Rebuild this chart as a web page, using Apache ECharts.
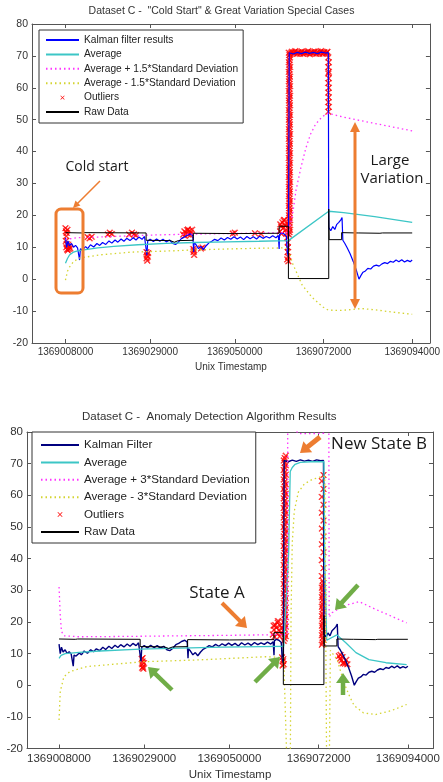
<!DOCTYPE html>
<html>
<head>
<meta charset="utf-8">
<script src="https://cdn.jsdelivr.net/npm/echarts@6/dist/echarts.min.js"></script>
<style>
html, body { margin: 0; padding: 0; background: #fff; }
#main { width: 443px; height: 782px; }
</style>
</head>
<body>
<div id="main"></div>
<script>
// x tick labels (unix timestamps), same for both panels
var xTicks = [1369008000, 1369029000, 1369050000, 1369072000, 1369094000];

// raw data, shared by both panels
var rawData = [
  [1369008000,14.6],[1369012000,14.5],[1369012300,14.0],[1369012600,14.6],[1369028000,14.5],
  [1369028000,12.2],[1369034000,12.1],[1369035000,11.6],[1369036000,12.1],[1369039700,12.2],
  [1369039700,14.4],[1369050000,14.3],[1369061000,14.4],[1369061000,16.6],[1369063300,16.6],
  [1369063300,0.2],[1369073300,0.2],[1369073300,22],[1369073400,12.4],[1369076500,12.4],
  [1369076500,14.6],[1369080000,14.5],[1369080300,15.0],[1369080600,14.5],[1369086000,14.4],
  [1369086300,14.9],[1369086600,14.5],[1369094000,14.5]
];

// kalman filter output (same run in both panels)
var kalmanData = [
  [1369008000,13],[1369008300,10],[1369008600,12],[1369009000,10.5],[1369009500,11.2],
  [1369010000,10],[1369010500,10.6],[1369011000,9.8],[1369011300,10.4],[1369011500,6],
  [1369011700,9.5],[1369012200,9.2],[1369013000,10.2],[1369013500,9.6],[1369014200,10.8],
  [1369015000,10.1],[1369015800,11.2],[1369016500,10.6],[1369017200,11.5],[1369018000,10.9],
  [1369018800,12],[1369019500,11.3],[1369020300,12.3],[1369021000,11.6],[1369021800,12.6],
  [1369022500,11.9],[1369023200,12.8],[1369024000,12.1],[1369024800,13],[1369025500,12.3],
  [1369026200,13.2],[1369027000,12.5],[1369027600,13.4],[1369028000,12.8],[1369028200,7.5],
  [1369028400,12],[1369029000,12.5],[1369029800,11.8],[1369030600,12.6],[1369031400,11.9],
  [1369032200,12.5],[1369033000,11.7],[1369033800,12.3],[1369034600,11.2],[1369035300,10.9],
  [1369036000,11.6],[1369036800,12.8],[1369037500,13.2],[1369038200,13.8],[1369039000,14.2],
  [1369039600,13.6],[1369039800,8.5],[1369039900,11.5],[1369040400,10.8],[1369041000,9.6],
  [1369041600,10.3],[1369042200,9.3],[1369042900,10.5],[1369043600,11.4],[1369044300,11.9],
  [1369045000,12.5],[1369045800,12.1],[1369046600,12.9],[1369047400,12.3],[1369048200,13.1],
  [1369049000,12.5],[1369049800,13.3],[1369050600,12.6],[1369051400,13.2],[1369052200,12.4],
  [1369053000,13.4],[1369053800,12.7],[1369054600,13.3],[1369055400,12.6],[1369056200,13.5],
  [1369057000,12.8],[1369057800,13.4],[1369058600,12.9],[1369059400,13.6],[1369060200,13],
  [1369060800,13.7],[1369061000,9.5],[1369061100,14],[1369061600,14.5],[1369062200,14.2],
  [1369062800,13.5],[1369063000,8.5],[1369063300,7],[1369063500,71],[1369064500,70.6],
  [1369065500,71.1],[1369066500,70.7],[1369067500,71.2],[1369068500,70.8],[1369069500,71.1],
  [1369070500,70.7],[1369071500,71.2],[1369072500,70.9],[1369073200,71],[1369073300,16.2],
  [1369073800,15.2],[1369074300,16.5],[1369074800,15.6],[1369075300,17.2],[1369075800,17.8],
  [1369076300,18.6],[1369076600,19.3],[1369076800,12.2],[1369077300,11.2],[1369077900,9.8],
  [1369078600,8],[1369079400,5.5],[1369080100,3],[1369080800,0],[1369081300,1.2],
  [1369081800,2.2],[1369082400,2.6],[1369083000,3.4],[1369083700,3.2],[1369084400,4.1],
  [1369085100,4.4],[1369085800,4.1],[1369086500,4.8],[1369087200,5.2],[1369087900,4.9],
  [1369088600,5.6],[1369089300,5.3],[1369090000,6],[1369090700,5.5],[1369091400,6.1],
  [1369092100,5.4],[1369092800,5.9],[1369093500,5.5],[1369094000,6]
];

// top panel: 1.5 sigma
var topAvg = [
  [1369008000,5],[1369008500,6.5],[1369009000,7.6],[1369010000,8.5],[1369011000,8.9],
  [1369013000,9.3],[1369016000,9.8],[1369020000,10.3],[1369026000,10.8],[1369033000,11.2],
  [1369040000,11.5],[1369048000,11.7],[1369056000,11.9],[1369063300,12.1],[1369073300,21.3],
  [1369077000,20.9],[1369084700,19.6],[1369094000,17.8]
];
var topUpper = [
  [1369008000,12.5],[1369011000,13],[1369018000,13.3],[1369028000,13.8],[1369038000,14.1],
  [1369048000,14.3],[1369058000,14.5],[1369063300,14.6],[1369064300,20],[1369065200,28],
  [1369066400,35],[1369067600,41],[1369068800,45.5],[1369070000,48.5],[1369071700,51],
  [1369073200,52],[1369077000,50.8],[1369084000,49],[1369094000,46.5]
];
var topLower = [
  [1369008000,-0.3],[1369008500,2.5],[1369009000,3.8],[1369010000,5.5],[1369011400,6.6],
  [1369016300,7.6],[1369024400,8.5],[1369032600,8.8],[1369040700,9.2],[1369048800,9.5],
  [1369056000,9.7],[1369062000,9.8],[1369063300,9.5],[1369064300,5],[1369066700,-1.8],
  [1369069100,-5.6],[1369071800,-8.7],[1369073200,-9.7],[1369076000,-9.8],[1369078100,-9.6],
  [1369081500,-9.2],[1369085400,-9.7],[1369089000,-10.3],[1369094000,-11]
];
var topOutliers = [
  [1369008000,16],[1369008100,15],[1369008200,13.5],[1369008100,12],[1369008300,11],
  [1369008200,10],[1369008400,9.3],[1369008600,9],[1369008800,9.5],[1369009000,10.2],
  [1369008500,15.5],[1369008300,14.5],[1369009200,9.6],[1369008700,10.8],
  [1369013500,13.2],[1369014000,12.8],[1369014500,13.3],[1369018500,14],[1369019000,14.6],
  [1369019500,14.2],[1369023800,14],[1369024500,14.6],[1369025000,14.1],[1369025500,13.8],
  [1369028100,8.5],[1369028200,7.5],[1369028100,6.5],[1369028300,5.8],[1369028400,7],[1369028500,8.2],
  [1369037200,14],[1369037500,15],[1369037900,14.5],[1369038200,15.4],[1369038500,14],
  [1369038800,15.2],[1369039100,14.6],[1369039400,15.5],[1369037600,13.6],[1369039000,13.8],[1369038400,15.6],
  [1369039700,9.5],[1369039800,8.5],[1369039900,7.6],[1369039800,9],
  [1369041600,9.6],[1369042000,9.9],
  [1369049500,14.3],[1369050000,14.6],[1369055000,14.4],[1369056500,14.2],
  [1369061200,15],[1369061500,16.5],[1369061800,17.8],[1369062100,18.4],[1369062400,17],
  [1369062700,15.5],[1369061600,14.2],[1369062000,16],[1369062300,18.6],[1369062600,16.8],
  [1369062900,14.5],[1369061300,17.2],
  [1369063000,13],[1369063100,11.5],[1369063200,10],[1369063100,8.5],[1369063200,7],
  [1369063300,5.6],[1369063000,6.2],
  [1369063400,14],[1369063700,15.5],[1369063400,17],[1369063700,18.5],[1369063400,20],
  [1369063700,21.5],[1369063400,23],[1369063700,24.5],[1369063400,26],[1369063700,27.5],
  [1369063400,29],[1369063700,30.5],[1369063400,32],[1369063700,33.5],[1369063400,35],
  [1369063700,36.5],[1369063400,38],[1369063700,39.5],[1369063400,41],[1369063700,42.5],
  [1369063400,44],[1369063700,45.5],[1369063400,47],[1369063700,48.5],[1369063400,50],
  [1369063700,51.5],[1369063400,53],[1369063700,54.5],[1369063400,56],[1369063700,57.5],
  [1369063400,59],[1369063700,60.5],[1369063400,62],[1369063700,63.5],[1369063400,65],
  [1369063700,66.5],[1369063400,68],[1369063700,69.5],[1369063400,71],
  [1369063550,14.75],[1369063550,16.25],[1369063550,17.75],[1369063550,19.25],[1369063550,20.75],
  [1369063550,22.25],[1369063550,23.75],[1369063550,25.25],[1369063550,26.75],[1369063550,28.25],
  [1369063550,29.75],[1369063550,31.25],[1369063550,32.75],[1369063550,34.25],[1369063550,35.75],
  [1369063550,37.25],[1369063550,38.75],[1369063550,40.25],[1369063550,41.75],[1369063550,43.25],
  [1369063550,44.75],[1369063550,46.25],[1369063550,47.75],[1369063550,49.25],[1369063550,50.75],
  [1369063550,52.25],[1369063550,53.75],[1369063550,55.25],[1369063550,56.75],[1369063550,58.25],
  [1369063550,59.75],[1369063550,61.25],[1369063550,62.75],[1369063550,64.25],[1369063550,65.75],
  [1369063550,67.25],[1369063550,68.75],[1369063550,70.25],
  [1369063800,70.5],[1369064200,71.3],[1369064600,70.8],[1369065000,71.5],[1369065400,70.6],
  [1369065800,71.2],[1369066200,70.7],[1369066600,71.4],[1369067000,70.6],[1369067400,71.1],
  [1369067800,70.8],[1369068200,71.5],[1369068600,70.5],[1369069000,71.2],[1369069400,70.8],
  [1369069800,71.4],[1369070200,70.6],[1369070600,71.3],[1369071000,70.7],[1369071400,71.5],
  [1369071800,70.6],[1369072200,71.2],[1369072600,70.8],[1369073000,71.3],
  [1369064000,71.0],[1369064800,71.2],[1369065600,70.9],[1369066400,71.1],[1369067200,71.0],
  [1369068000,71.2],[1369068800,70.9],[1369069600,71.1],[1369070400,71.0],[1369071200,71.2],
  [1369072000,70.9],[1369072800,71.1],
  [1369073200,69.5],[1369073300,68],[1369073200,66.5],[1369073300,65],[1369073200,64.5],
  [1369073300,63],[1369073200,61.5],[1369073300,60],[1369073200,58.5],[1369073300,57],
  [1369073200,55.5],[1369073300,54],[1369073200,52.5]
];

// bottom panel: 3 sigma
var botAvg = [
  [1369008000,8.5],[1369008500,9.4],[1369009500,10],[1369013000,10.4],[1369018000,10.8],
  [1369028000,11.4],[1369038000,11.7],[1369048000,12],[1369058000,12.2],[1369063400,12.3],
  [1369064600,41.5],[1369064900,42],[1369065000,67.5],[1369065500,68.8],[1369066200,69.8],
  [1369067500,70.4],[1369070000,70.6],[1369073300,70.6],[1369073500,40],[1369074000,14.2],
  [1369076500,15.9],[1369078700,13.4],[1369081200,10.3],[1369084400,8.1],[1369088600,7.1],
  [1369093700,6.5]
];
var botUpper = [
  [1369008000,31],[1369008300,22],[1369008600,17],[1369009200,15.6],[1369013000,15.3],
  [1369023000,15.4],[1369038000,15.6],[1369053000,15.8],[1369063000,16],[1369064300,16],
  [1369064400,95],[1369065500,82],[1369067000,79.5],[1369070000,79.5],[1369073300,79.6],
  [1369073400,95],[1369074500,95],[1369074600,21.5],[1369075300,22.9],[1369078000,25],
  [1369082000,26.4],[1369086000,24],[1369093700,19.7]
];
var botLower = [
  [1369008000,-11],[1369008300,-2],[1369009200,2.7],[1369010700,4.3],[1369014900,5.9],
  [1369028600,7.4],[1369042600,8],[1369059000,9],[1369062300,8.8],[1369063400,8.6],
  [1369064300,-30],[1369065000,-30],[1369065200,22],[1369065500,45],[1369066000,55],
  [1369067000,61],[1369068500,63.6],[1369070400,65],[1369073000,66],[1369073500,66],
  [1369074000,-30],[1369074600,-30],[1369074900,11],[1369076600,8],[1369077500,4],
  [1369078500,0],[1369079800,-4],[1369080800,-6.5],[1369083000,-8.7],[1369086000,-9.3],
  [1369090000,-8],[1369093700,-6.1]
];
var botOutliers = [
  [1369028400,8.3],[1369028600,7.5],[1369028500,6.6],[1369028700,5.8],[1369028800,5.2],
  [1369028500,5.5],[1369028900,7],[1369028600,8.6],
  [1369060700,16],[1369061000,17.5],[1369061300,19],[1369061600,18.2],[1369061900,19.8],
  [1369062200,17.4],[1369062500,18.8],[1369062800,16.5],[1369061100,15.3],[1369061800,16.2],
  [1369062400,15.4],[1369063000,18],[1369060900,18.8],[1369062000,20.3],
  [1369063000,8.8],[1369063200,7.6],[1369063400,6.6],[1369063100,6.2],[1369063300,8.2],
  [1369063400,14],[1369063900,15.5],[1369063400,17],[1369063900,18.5],[1369063400,20],
  [1369063900,21.5],[1369063400,23],[1369063900,24.5],[1369063400,26],[1369063900,27.5],
  [1369063400,29],[1369063900,30.5],[1369063400,32],[1369063900,33.5],[1369063400,35],
  [1369063900,36.5],[1369063400,38],[1369063900,39.5],[1369063400,41],[1369063900,42.5],
  [1369063400,44],[1369063900,45.5],[1369063400,47],[1369063900,48.5],[1369063400,50],
  [1369063900,51.5],[1369063400,53],[1369063900,54.5],[1369063400,56],[1369063900,57.5],
  [1369063400,59],[1369063900,60.5],[1369063400,62],[1369063900,63.5],[1369063400,65],
  [1369063900,66.5],[1369063400,68],[1369063900,69.5],[1369063400,71],[1369063900,72.5],
  [1369063650,14.75],[1369063650,16.25],[1369063650,17.75],[1369063650,19.25],[1369063650,20.75],
  [1369063650,22.25],[1369063650,23.75],[1369063650,25.25],[1369063650,26.75],[1369063650,28.25],
  [1369063650,29.75],[1369063650,31.25],[1369063650,32.75],[1369063650,34.25],[1369063650,35.75],
  [1369063650,37.25],[1369063650,38.75],[1369063650,40.25],[1369063650,41.75],[1369063650,43.25],
  [1369063650,44.75],[1369063650,46.25],[1369063650,47.75],[1369063650,49.25],[1369063650,50.75],
  [1369063650,52.25],[1369063650,53.75],[1369063650,55.25],[1369063650,56.75],[1369063650,58.25],
  [1369063650,59.75],[1369063650,61.25],[1369063650,62.75],[1369063650,64.25],[1369063650,65.75],
  [1369063650,67.25],[1369063650,68.75],[1369063650,70.25],[1369063650,71.75],
  [1369072800,12.8],[1369073200,14.3],[1369072800,15.8],[1369073200,17.3],[1369072800,18.8],
  [1369073200,20.3],[1369072800,21.8],[1369073200,23.3],[1369072800,24.8],[1369073200,26.3],
  [1369072800,27.8],[1369073200,29.3],[1369072800,30.8],[1369073200,32.3],[1369072800,34.5],
  [1369073200,37],[1369072800,39.5],[1369073200,42],[1369072800,44.5],[1369073200,47],
  [1369072800,49.5],[1369073200,52],[1369072800,54.5],[1369073200,57],[1369072800,59.5],
  [1369073200,62],[1369072800,64.5],[1369073200,66.4],
  [1369073000,13.5],[1369073000,15],[1369073000,16.5],[1369073000,18],[1369073000,19.5],
  [1369073000,21],[1369073000,22.5],[1369073000,24],[1369073000,25.5],[1369073000,27],
  [1369073000,28.5],[1369073000,30],[1369073000,31.5],[1369073000,33],
  [1369077000,9.2],[1369077300,8.4],[1369077600,7.8],[1369077900,8.9],[1369078200,7.2],
  [1369078500,6.8],[1369078800,8],[1369079100,6.6],[1369077400,9.6],[1369078000,6.9]
];

var FONT = 'Liberation Sans, Arial, sans-serif';
var ANNO_FONT = 'Open Sans, sans-serif';
var ORANGE = '#ED7D31', GREEN = '#70AD47';
var xSym = 'path://M0,1L1,0L5,4L9,0L10,1L6,5L10,9L9,10L5,6L1,10L0,9L4,5Z';
var xIcon = 'path://M-7,-7M17,17M0,1L1,0L5,4L9,0L10,1L6,5L10,9L9,10L5,6L1,10L0,9L4,5Z';
var dots = [1.5, 3];

var myChart = echarts.init(document.getElementById('main'));

function xAxes(grid, min, max, fs) {
    var line = {show: true, onZero: false, lineStyle: {color: '#555', width: 1}};
    return [{
        type: 'value', gridIndex: grid, min: min, max: max, position: 'bottom',
        name: 'Unix Timestamp', nameLocation: 'middle', nameGap: fs + 9,
        nameTextStyle: {color: '#333', fontSize: fs, fontFamily: FONT},
        axisLine: line,
        axisTick: {show: true, inside: true, length: 4, customValues: xTicks, lineStyle: {color: '#555'}},
        axisLabel: {customValues: xTicks, color: '#333', fontSize: fs, fontFamily: FONT, margin: 4,
            formatter: function (v) { return v.toFixed(0); }},
        splitLine: {show: false}
    }, {
        type: 'value', gridIndex: grid, min: min, max: max, position: 'top',
        axisLine: line,
        axisTick: {show: true, inside: true, length: 4, customValues: xTicks, lineStyle: {color: '#555'}},
        axisLabel: {show: false},
        splitLine: {show: false}
    }];
}

function yAxes(grid, fs) {
    var line = {show: true, onZero: false, lineStyle: {color: '#555', width: 1}};
    return [{
        type: 'value', gridIndex: grid, min: -20, max: 80, interval: 10, position: 'left',
        axisLine: line,
        axisTick: {show: true, inside: true, length: 4, lineStyle: {color: '#555'}},
        axisLabel: {color: '#333', fontSize: fs, fontFamily: FONT, margin: 4},
        splitLine: {show: false}
    }, {
        type: 'value', gridIndex: grid, min: -20, max: 80, interval: 10, position: 'right',
        axisLine: line,
        axisTick: {show: true, inside: true, length: 4, lineStyle: {color: '#555'}},
        axisLabel: {show: false},
        splitLine: {show: false}
    }];
}

function lineSeries(name, data, xi, yi, color, width, type) {
    return {
        name: name, type: 'line', xAxisIndex: xi, yAxisIndex: yi, data: data,
        symbol: 'none', animation: false,
        lineStyle: {color: color, width: width, type: type || 'solid'},
        itemStyle: {color: color}
    };
}

function outlierSeries(data, xi, yi) {
    return {
        name: 'Outliers', type: 'scatter', xAxisIndex: xi, yAxisIndex: yi, data: data,
        symbol: xSym, symbolSize: 6, animation: false,
        itemStyle: {color: '#ff0000', borderColor: '#ff0000', borderWidth: 0.6}
    };
}

function arrow(x1, y1, x2, y2, color, w, hl, hw, both) {
    var dx = x2 - x1, dy = y2 - y1, len = Math.sqrt(dx * dx + dy * dy);
    var ux = dx / len, uy = dy / len;
    function head(hx, hy, ax, ay) {
        var bx = hx - ax * hl, by = hy - ay * hl;
        return {type: 'polygon', z: 100,
            shape: {points: [[hx, hy], [bx - ay * hw, by + ax * hw], [bx + ay * hw, by - ax * hw]]},
            style: {fill: color}};
    }
    var kids = [];
    var sx = x1, sy = y1;
    if (both) {
        sx = x1 + ux * hl * 0.9; sy = y1 + uy * hl * 0.9;
        kids.push(head(x1, y1, -ux, -uy));
    }
    kids.push({type: 'line', z: 100,
        shape: {x1: sx, y1: sy, x2: x2 - ux * hl * 0.9, y2: y2 - uy * hl * 0.9},
        style: {stroke: color, lineWidth: w}});
    kids.push(head(x2, y2, ux, uy));
    return {type: 'group', children: kids};
}

function label(x, y, text, size) {
    return {type: 'text', x: x, y: y, z: 100,
        style: {text: text, fill: '#1a1a1a', fontSize: size, fontFamily: ANNO_FONT,
            align: 'center', verticalAlign: 'middle'}};
}

var outlierItem = {name: 'Outliers', icon: xIcon, itemStyle: {opacity: 1, borderWidth: 0}};

var option = {
    animation: false,
    backgroundColor: '#fff',
    title: [{
        text: 'Dataset C -  "Cold Start" & Great Variation Special Cases',
        left: 'center', top: 6, padding: 0,
        textStyle: {fontSize: 10.5, fontWeight: 'normal', color: '#333', fontFamily: FONT}
    }, {
        text: 'Dataset C -  Anomaly Detection Algorithm Results',
        left: 82, top: 411, padding: 0,
        textStyle: {fontSize: 11.5, fontWeight: 'normal', color: '#333', fontFamily: FONT}
    }],
    legend: [{
        data: ['Kalman filter results', 'Average', 'Average + 1.5*Standard Deviation',
            'Average - 1.5*Standard Deviation', outlierItem, 'Raw Data'],
        orient: 'vertical', left: 39, top: 30, align: 'left',
        itemWidth: 33, itemHeight: 10, itemGap: 4.4, padding: [5, 5, 6, 6],
        itemStyle: {opacity: 0},
        borderColor: '#333', borderWidth: 1, backgroundColor: '#fff', selectedMode: false,
        textStyle: {fontSize: 10.2, lineHeight: 10, color: '#222', fontFamily: FONT}
    }, {
        data: ['Kalman Filter', 'Average', 'Average + 3*Standard Deviation',
            'Average - 3*Standard Deviation', outlierItem, 'Raw Data'],
        orient: 'vertical', left: 32, top: 432, align: 'left',
        itemWidth: 38, itemHeight: 12, itemGap: 5.4, padding: [7, 6, 5, 8],
        itemStyle: {opacity: 0},
        borderColor: '#333', borderWidth: 1, backgroundColor: '#fff', selectedMode: false,
        textStyle: {fontSize: 11.6, lineHeight: 12, color: '#222', fontFamily: FONT}
    }],
    grid: [
        {left: 32, top: 24, width: 404, height: 319},
        {left: 27, top: 432, width: 406, height: 317}
    ],
    xAxis: xAxes(0, 1368999700, 1369098400, 10).concat(xAxes(1, 1369000100, 1369100200, 11.5)),
    yAxis: yAxes(0, 10.5).concat(yAxes(1, 11.5)),
    series: [
        lineSeries('Kalman filter results', kalmanData, 0, 0, '#0000ff', 1.2),
        lineSeries('Average', topAvg, 0, 0, '#3cc6c6', 1.3),
        lineSeries('Average + 1.5*Standard Deviation', topUpper, 0, 0, '#ff33ff', 1.3, dots),
        lineSeries('Average - 1.5*Standard Deviation', topLower, 0, 0, '#d4d431', 1.3, dots),
        outlierSeries(topOutliers, 0, 0),
        lineSeries('Raw Data', rawData, 0, 0, '#000000', 1),

        lineSeries('Kalman Filter', kalmanData, 2, 2, '#00007f', 1.4),
        lineSeries('Average', botAvg, 2, 2, '#3cc6c6', 1.3),
        lineSeries('Average + 3*Standard Deviation', botUpper, 2, 2, '#ff33ff', 1.3, dots),
        lineSeries('Average - 3*Standard Deviation', botLower, 2, 2, '#d4d431', 1.3, dots),
        outlierSeries(botOutliers, 2, 2),
        lineSeries('Raw Data', rawData, 2, 2, '#000000', 1)
    ],
    graphic: [
        // top panel notes
        {type: 'rect', z: 100, shape: {x: 56, y: 209, width: 27, height: 84, r: 5},
            style: {fill: 'none', stroke: ORANGE, lineWidth: 3}},
        label(97, 167, 'Cold start', 14),
        arrow(100, 181, 73, 208, ORANGE, 1.5, 7, 3.5),
        arrow(355, 122, 355, 309, ORANGE, 3, 10, 5, true),
        label(390, 161, 'Large', 15),
        label(392, 179, 'Variation', 15),
        // bottom panel notes
        label(379, 444, 'New State B', 17),
        arrow(320, 437, 300, 453, ORANGE, 5, 10, 7),
        label(217, 593, 'State A', 17),
        arrow(222, 603, 247, 628, ORANGE, 4, 10, 7),
        arrow(172, 690, 148, 667, GREEN, 4.5, 10, 7),
        arrow(255, 682, 280, 657, GREEN, 4.5, 10, 7),
        arrow(358, 585, 335, 610, GREEN, 4.5, 10, 7),
        arrow(343, 695, 343, 673, GREEN, 4.5, 10, 7)
    ]
};

myChart.setOption(option);
</script>
</body>
</html>
